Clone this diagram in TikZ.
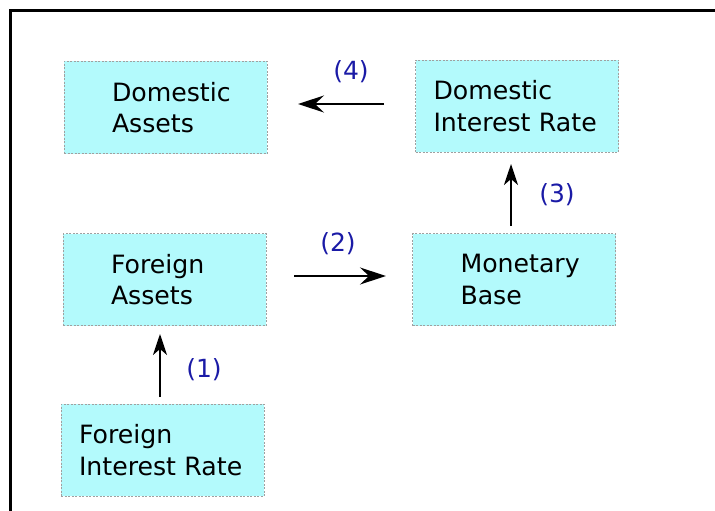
\documentclass[tikz,border=0pt]{standalone}
\usepackage{fontspec}
\setmainfont{DejaVu Sans}
\usetikzlibrary{arrows.meta}
\definecolor{boxfill}{HTML}{B3FAFC}
\definecolor{boxline}{HTML}{A0A0A0}
\definecolor{lblblue}{HTML}{1A1AA6}
\tikzset{
  box/.style={draw=boxline, dashed, dash pattern=on 2pt off 1.5pt, line width=0.8pt, fill=boxfill,
    minimum height=92pt, inner ysep=0pt, align=left,
    font=\fontsize{25.2}{31.5}\selectfont},
  narrowbox/.style={box, inner xsep=48pt, text width=107pt},
  widebox/.style={box, inner xsep=18pt, text width=167pt},
  hconn/.style={line width=1.6pt, -{Stealth[length=26pt,width=17pt,inset=9pt]}},
  vconn/.style={line width=1.6pt, -{Stealth[length=21pt,width=14pt,inset=6pt]}},
  lbl/.style={text=lblblue, font=\fontsize{25}{30}\selectfont, inner sep=0pt}
}
\begin{document}
\begin{tikzpicture}[x=1pt,y=-1pt]
\useasboundingbox (0,0) rectangle (715,511);
\draw[line width=2.2pt] (10.5,520) -- (10.5,10.5) -- (720,10.5);
\node[narrowbox] (da) at (165.5,107.5) {Domestic\\Assets};
\node[widebox] (dir) at (517,106) {Domestic\\Interest~Rate};
\node[narrowbox] (fa) at (164.5,279.5) {Foreign\\Assets};
\node[narrowbox] (mb) at (514,279.5) {Monetary\\Base};
\node[widebox] (fir) at (162.5,450) {Foreign\\Interest~Rate};
\coordinate (a4s) at (384,104);
\coordinate (a4e) at (298,104);
\coordinate (a2s) at (294,276);
\coordinate (a2e) at (386,276);
\coordinate (a3s) at (511,226);
\coordinate (a3e) at (511,164);
\coordinate (a1s) at (160,397);
\coordinate (a1e) at (160,334);
\draw[hconn] (a4s) -- (a4e);
\draw[hconn] (a2s) -- (a2e);
\draw[vconn] (a3s) -- (a3e);
\draw[vconn] (a1s) -- (a1e);
\node[lbl] (l4) at (351,72) {(4)};
\node[lbl] (l2) at (338,244) {(2)};
\node[lbl] (l3) at (557,195) {(3)};
\node[lbl] (l1) at (204,370) {(1)};
\end{tikzpicture}
\end{document}
